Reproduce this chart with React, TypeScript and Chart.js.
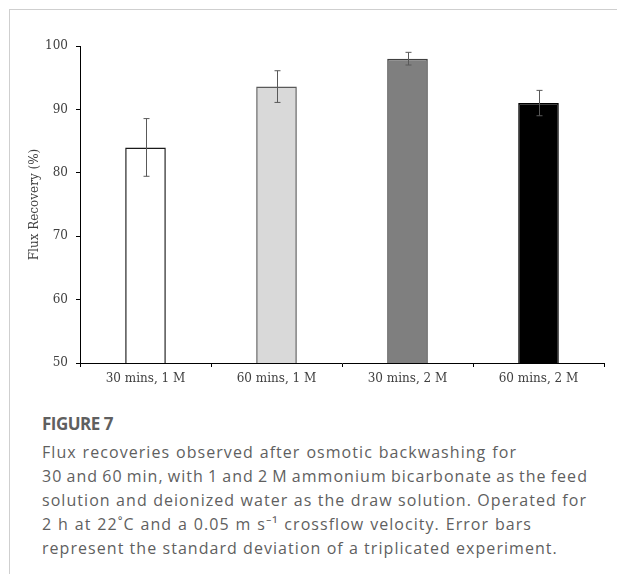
import React, { useEffect, useRef } from "react";
import { Chart, registerables } from "chart.js";

Chart.register(...registerables);

const categories = ["30 mins, 1 M", "60 mins, 1 M", "30 mins, 2 M", "60 mins, 2 M"];
const recovery = [84.0, 93.6, 98.0, 91.0];
const stdDev = [4.55, 2.5, 1.0, 2.0];
const barFill = ["#ffffff", "#d9d9d9", "#7f7f7f", "#000000"];
const barEdge = ["#1a1a1a", "#595959", "#404040", "#000000"];
const yTicks = [50, 60, 70, 80, 90, 100];

const captionTitle = "FIGURE 7";
const captionLines = [
  "Flux recoveries observed after osmotic backwashing for",
  "30 and 60 min, with 1 and 2 M ammonium bicarbonate as the feed",
  "solution and deionized water as the draw solution. Operated for",
  "2 h at 22\u02DAC and a 0.05 m s\u207B\u00B9 crossflow velocity. Error bars",
  "represent the standard deviation of a triplicated experiment.",
];
const captionLineWidths = [475, 546, 545, 490, 508];
const captionWordSpacing = [0, -1.5, 0, 0, 0];

const errorBarPlugin = {
  id: "errorBars",
  afterDatasetsDraw(chart: any) {
    const meta = chart.getDatasetMeta(0);
    const y = chart.scales.y;
    const ctx = chart.ctx;
    ctx.save();
    ctx.strokeStyle = "#595959";
    ctx.lineWidth = 1;
    meta.data.forEach((bar: any, i: number) => {
      const x = Math.round(bar.x) + 0.5;
      const hi = y.getPixelForValue(recovery[i] + stdDev[i]);
      const lo = y.getPixelForValue(recovery[i] - stdDev[i]);
      ctx.beginPath();
      ctx.moveTo(x, hi);
      ctx.lineTo(x, lo);
      ctx.moveTo(x - 3, hi);
      ctx.lineTo(x + 3, hi);
      ctx.moveTo(x - 3, lo);
      ctx.lineTo(x + 3, lo);
      ctx.stroke();
    });
    ctx.restore();
  },
};

const serif = "'DejaVu Serif', serif";

export default function App() {
  const ref = useRef<HTMLCanvasElement | null>(null);
  useEffect(() => {
    if (!ref.current) return;
    const chart = new Chart(ref.current, {
      type: "bar",
      data: {
        labels: categories,
        datasets: [
          {
            data: recovery,
            backgroundColor: barFill,
            borderColor: barEdge,
            borderWidth: 1.5,
            categoryPercentage: 1,
            barPercentage: 0.31,
          },
        ],
      },
      options: {
        animation: false,
        responsive: false,
        maintainAspectRatio: false,
        layout: { padding: { top: 46, right: 13, left: 28, bottom: 0 } },
        plugins: { legend: { display: false }, tooltip: { enabled: false } },
        scales: {
          x: {
            afterFit: (s: any) => {
              s.height = 37;
            },
            grid: {
              offset: true,
              drawOnChartArea: false,
              tickLength: 4,
              color: "#000",
              lineWidth: 1,
            },
            border: { color: "#000", width: 1 },
            ticks: {
              color: "#404040",
              font: { family: serif, size: 12 },
              padding: 5,
            },
          },
          y: {
            min: 50,
            max: 100,
            afterFit: (s: any) => {
              s.width = 52;
            },
            afterBuildTicks: (s: any) => {
              s.ticks = yTicks.map((v) => ({ value: v }));
            },
            grid: {
              drawOnChartArea: false,
              tickLength: 4,
              color: "#000",
              lineWidth: 1,
            },
            border: { color: "#000", width: 1 },
            ticks: {
              color: "#404040",
              font: { family: serif, size: 12 },
              padding: 8,
            },
            title: {
              display: true,
              text: "Flux Recovery (%)",
              color: "#404040",
              font: { family: serif, size: 12 },
              padding: { top: 0, bottom: 0 },
            },
          },
        },
      },
      plugins: [errorBarPlugin],
    });
    return () => chart.destroy();
  }, []);

  return (
    <div
      style={{
        position: "fixed",
        left: 0,
        top: 0,
        width: 617,
        height: 574,
        background: "#fff",
        overflow: "hidden",
      }}
    >
      <div
        style={{
          position: "absolute",
          left: 9,
          top: 9,
          right: 0,
          bottom: 0,
          borderTop: "1px solid #cfcfcf",
          borderLeft: "1px solid #cfcfcf",
        }}
      />
      <canvas
        ref={ref}
        width={617}
        height={400}
        style={{ position: "absolute", left: 0, top: 0, width: 617, height: 400 }}
      />
      <div
        style={{
          position: "absolute",
          left: 42,
          top: 414,
          fontFamily: "'Open Sans', sans-serif",
          color: "#5f5f5f",
        }}
      >
        <div
          style={{
            fontSize: 17,
            fontWeight: 700,
            lineHeight: "20px",
            marginBottom: 6,
            letterSpacing: -0.5,
          }}
        >
          {captionTitle}
        </div>
        {captionLines.map((l, i) => (
          <div
            key={i}
            style={{
              fontSize: 16,
              lineHeight: "24px",
              whiteSpace: "nowrap",
              letterSpacing: 1.05,
              wordSpacing: captionWordSpacing[i],
              width: captionLineWidths[i],
              textAlign: "justify",
              textAlignLast: "justify",
            }}
          >
            {l}
          </div>
        ))}
      </div>
    </div>
  );
}
